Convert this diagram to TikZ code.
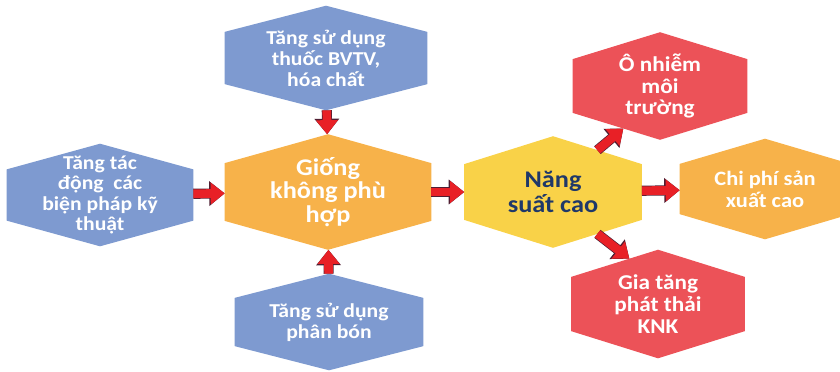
\documentclass[tikz,border=0pt]{standalone}
\usepackage{fontspec}
\setmainfont{Carlito}[FakeStretch=1.1]
\usepackage{tikz}
\usetikzlibrary{arrows.meta}
\usetikzlibrary{calc}
\definecolor{hexblue}{RGB}{126,154,208}
\definecolor{hexorange}{RGB}{247,178,74}
\definecolor{hexyellow}{RGB}{249,210,72}
\definecolor{hexred}{RGB}{236,82,88}
\definecolor{arrowred}{RGB}{232,32,38}
\definecolor{arrowline}{RGB}{80,30,50}
\definecolor{navytext}{RGB}{31,56,105}
\pgfdeclarelayer{background}
\pgfsetlayers{background,main}

\begin{document}
\begin{tikzpicture}[x=0.025cm,y=-0.025cm,
  hexa/.style={rectangle, inner sep=0pt, text=white, align=center},
  blockarrow/.style={line width=6.2pt, draw=arrowred, -{Triangle[length=10pt,width=15pt]},
    preaction={draw=arrowline, line width=7.2pt, -{Triangle[length=11pt,width=17pt]}}}]
\useasboundingbox (0,0) rectangle (840,371);
\clip (0,0) rectangle (840,371);
% text boxes, as large as the hexagons
\node[hexa, minimum width=4.65cm, minimum height=2.55cm,
  font=\bfseries\fontsize{14}{14.5}\selectfont] (tech) at (100,195) {Tăng tác\\động~ các\\biện pháp kỹ\\thuật};
\node[hexa, minimum width=5.05cm, minimum height=2.6cm,
  font=\bfseries\fontsize{14}{15}\selectfont] (pest) at (326,58) {Tăng sử dụng\\thuốc BVTV,\\hóa chất};
\node[hexa, minimum width=5.15cm, minimum height=2.875cm,
  font=\bfseries\fontsize{17}{16.5}\selectfont] (seed) at (328,192) {Giống\\không phù\\hợp};
\node[hexa, minimum width=4.7cm, minimum height=2.4cm,
  font=\bfseries\fontsize{14}{15}\selectfont] (fert) at (329,322) {Tăng sử dụng\\phân bón};
\node[hexa, minimum width=4.425cm, minimum height=2.775cm, text=navytext,
  font=\bfseries\fontsize{17}{17.5}\selectfont] (yield) at (553,192) {Năng\\suất cao};
\node[hexa, minimum width=4.35cm, minimum height=2.675cm,
  font=\bfseries\fontsize{15}{15.5}\selectfont] (poll) at (660,86) {Ô nhiễm\\môi\\trường};
\node[hexa, minimum width=4.325cm, minimum height=2.7cm,
  font=\bfseries\fontsize{15}{15.5}\selectfont] (emis) at (658,304) {Gia tăng\\phát thải\\KNK};
\node[hexa, minimum width=4.25cm, minimum height=2.5cm,
  font=\bfseries\fontsize{14.5}{15.5}\selectfont] (cost) at (765,189) {Chi phí sản\\xuất cao};
% hexagons behind the text
\begin{pgfonlayer}{background}
\foreach \n/\c in {tech/hexblue, pest/hexblue, seed/hexorange, fert/hexblue,
    yield/hexyellow, poll/hexred, emis/hexred, cost/hexorange}{
  \coordinate (\n-ne) at ($(\n.east)!.5!(\n.north east)$);
  \coordinate (\n-se) at ($(\n.east)!.5!(\n.south east)$);
  \coordinate (\n-sw) at ($(\n.west)!.5!(\n.south west)$);
  \coordinate (\n-nw) at ($(\n.west)!.5!(\n.north west)$);
  \fill[\c] (\n.north) -- (\n-ne) -- (\n-se) -- (\n.south) -- (\n-sw) -- (\n-nw) -- cycle;
}
\end{pgfonlayer}
% arrows
\draw[blockarrow] (tech) -- (seed);
\draw[blockarrow] (pest) -- (seed);
\draw[blockarrow] (fert) -- (seed);
\draw[blockarrow] (seed) -- (yield);
\draw[blockarrow] (yield) -- (cost);
\draw[blockarrow] ($(yield.north)!.5!(yield-ne)$) -- ($(poll.south)!.42!(poll-sw)$);
\draw[blockarrow] ($(yield.south)!.5!(yield-se)$) -- ($(emis.north)!.33!(emis-nw)$);
\end{tikzpicture}
\end{document}
